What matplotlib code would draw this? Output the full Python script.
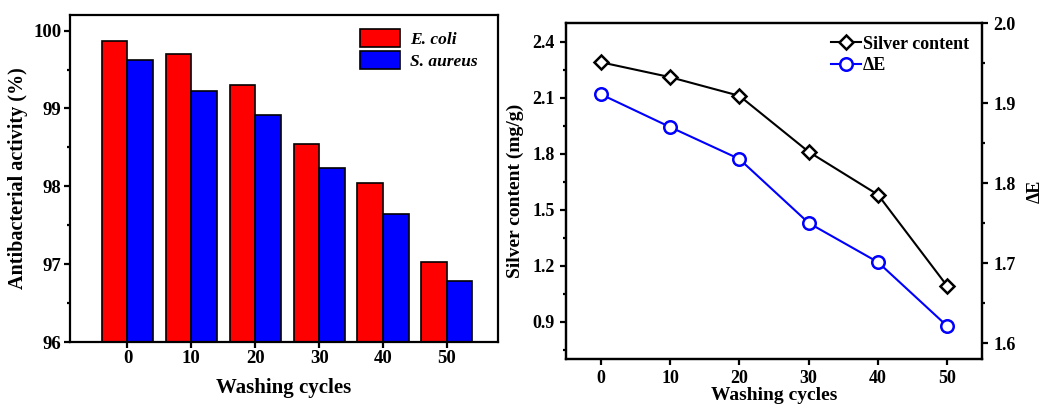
import numpy as np
import matplotlib
matplotlib.use('Agg')
import matplotlib.pyplot as plt
from matplotlib.ticker import MultipleLocator

#########################################################

CYCLES = [0, 10, 20, 30, 40, 50]

E_COLI = [99.87, 99.70, 99.30, 98.54, 98.04, 97.03]
S_AUREUS = [99.62, 99.23, 98.91, 98.23, 97.65, 96.78]

SILVER = [2.29, 2.21, 2.11, 1.81, 1.58, 1.09]
DELTA_E = [1.911, 1.870, 1.830, 1.750, 1.701, 1.621]

#########################################################

plt.rcParams['font.family'] = ['Liberation Serif', 'DejaVu Serif']
plt.rcParams['font.weight'] = 'bold'
plt.rcParams['axes.linewidth'] = 1.6
plt.rcParams['xtick.major.width'] = 1.6
plt.rcParams['ytick.major.width'] = 1.6
plt.rcParams['ytick.minor.width'] = 1.6
plt.rcParams['xtick.major.size'] = 4
plt.rcParams['ytick.major.size'] = 4
plt.rcParams['ytick.minor.size'] = 2.5

fig = plt.figure(figsize=(10.45, 4.05), dpi=100)

# left panel: bars
ax1 = fig.add_axes([70 / 1045, 1 - 342 / 405, 428 / 1045, 327 / 405])
x = np.array(CYCLES)
w = 4
ax1.bar(x - w / 2, E_COLI, width=w, color='#ff0000', edgecolor='black',
        linewidth=1.2, label='E. coli')
ax1.bar(x + w / 2, S_AUREUS, width=w, color='#0000ff', edgecolor='black',
        linewidth=1.2, label='S. aureus')
ax1.set_xlim(-9, 58)
ax1.set_ylim(96, 100.2)
ax1.set_xticks(CYCLES)
ax1.yaxis.set_major_locator(MultipleLocator(1))
ax1.yaxis.set_minor_locator(MultipleLocator(0.5))
ax1.tick_params(axis='both', labelsize=13.5, pad=2)
ax1.set_xlabel('Washing cycles', fontsize=15, fontweight='bold', labelpad=8)
ax1.set_ylabel('Antibacterial activity (%)', fontsize=14.5, fontweight='bold', labelpad=4)
ax1.legend(loc='upper right', bbox_to_anchor=(0.985, 1.0), frameon=False,
           prop={'style': 'italic', 'weight': 'bold', 'size': 12.5},
           handlelength=2.3, handleheight=1.25, handletextpad=0.6,
           borderaxespad=0.4, labelspacing=0.15)

# right panel: lines with twin axis
ax2 = fig.add_axes([566 / 1045, 1 - 359 / 405, 416 / 1045, 336 / 405])
l1, = ax2.plot(CYCLES, SILVER, color='black', linewidth=1.5, marker='D',
               markersize=7, markerfacecolor='white', markeredgewidth=1.8,
               label='Silver content')
ax2.set_xlim(-5, 55)
ax2.set_ylim(0.7, 2.5)
ax2.set_xticks(CYCLES)
ax2.yaxis.set_major_locator(MultipleLocator(0.3))
ax2.yaxis.set_minor_locator(MultipleLocator(0.15))
ax2.tick_params(axis='both', labelsize=13, pad=4)
ax2.set_xlabel('Washing cycles', fontsize=14, fontweight='bold', labelpad=0)
ax2.set_ylabel('Silver content (mg/g)', fontsize=14, fontweight='bold', labelpad=6)

ax3 = ax2.twinx()
l2, = ax3.plot(CYCLES, DELTA_E, color='#0000ff', linewidth=1.5, marker='o',
               markersize=9, markerfacecolor='white', markeredgewidth=1.8,
               label='ΔE')
ax3.set_ylim(1.58, 2.0)
ax3.yaxis.set_major_locator(MultipleLocator(0.1))
ax3.yaxis.set_minor_locator(MultipleLocator(0.05))
ax3.tick_params(axis='y', labelsize=13, pad=4)
ax3.set_ylabel('ΔE', fontsize=13, fontweight='bold', labelpad=8)

ax2.legend(handles=[l1, l2], loc='upper right', frameon=False,
           prop={'weight': 'bold', 'size': 13}, handlelength=1.65,
           handletextpad=0.15, borderaxespad=0.3, labelspacing=0.25)

fig.savefig('out.png', dpi=100)
